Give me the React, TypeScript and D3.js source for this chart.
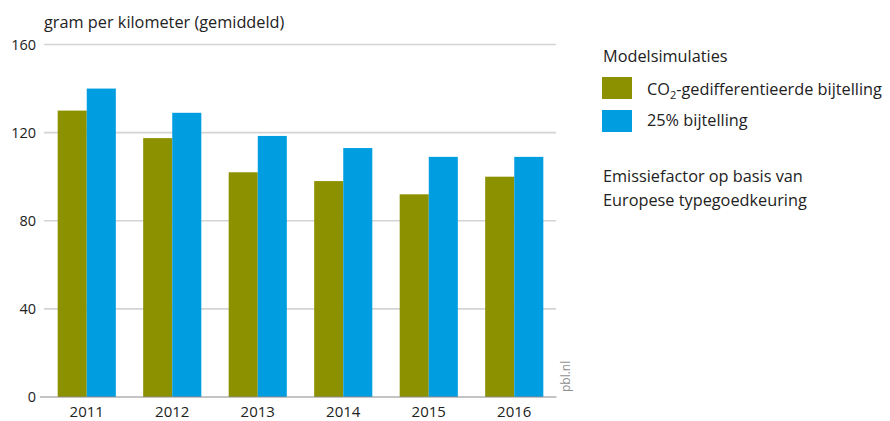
import React from "react";
import * as d3 from "d3";

const years = ["2011", "2012", "2013", "2014", "2015", "2016"];
const co2Diff = [130, 117.5, 102, 98, 92, 100];
const flat25 = [140, 129, 118.5, 113, 109, 109];
const yTicks = [0, 40, 80, 120, 160];
const seriesNames = ["CO2-gedifferentieerde bijtelling", "25% bijtelling"];
const colors = ["#8C9100", "#009EE0"];

const W = 890, H = 421;
const FONT = "'Open Sans', sans-serif";
const FS = 16.3;

export default function App() {
  const x0 = d3.scaleBand<string>().domain(years).range([44, 557]).paddingInner(0.32).paddingOuter(0.16);
  const x1 = d3.scaleBand<string>().domain(["a", "b"]).range([0, x0.bandwidth()]).padding(0);
  const y = d3.scaleLinear().domain([0, 160]).range([397, 44.5]);
  const series = [co2Diff, flat25];
  const keys = ["a", "b"];

  return (
    <svg width={W} height={H} style={{ position: "absolute", left: 0, top: 0, fontFamily: FONT }}>
      <rect width={W} height={H} fill="#fff" />
      <text x={44} y={28} fontSize={FS} fill="#222">gram per kilometer (gemiddeld)</text>
      {yTicks.map((t) => (
        <g key={t}>
          {t !== 0 && <line x1={44} x2={556} y1={y(t)} y2={y(t)} stroke="#d4d4d4" strokeWidth={1.6} />}
          <text x={36} y={y(t) + 5} fontSize={14.5} textAnchor="end" fill="#222">{t}</text>
        </g>
      ))}
      {years.map((yr, i) => (
        <g key={yr} transform={`translate(${x0(yr)},0)`}>
          {series.map((s, j) => (
            <rect key={j} x={x1(keys[j])} width={x1.bandwidth()} y={y(s[i])} height={y(0) - y(s[i])} fill={colors[j]} />
          ))}
          <text x={x0.bandwidth() / 2} y={417} fontSize={15} textAnchor="middle" fill="#222">{yr}</text>
        </g>
      ))}
      <line x1={40} x2={556.5} y1={y(0)} y2={y(0)} stroke="#8a8a8a" strokeWidth={1.2} />
      <text transform={`translate(570,392) rotate(-90)`} fontSize={12} fill="#8f8f8f">pbl.nl</text>
      <text x={603} y={62} fontSize={FS} fill="#222">Modelsimulaties</text>
      <rect x={602} y={77} width={30} height={22} fill={colors[0]} />
      <text x={647} y={95} fontSize={FS} fill="#222">
        CO<tspan fontSize={11} dy={4}>2</tspan><tspan dy={-4}>-gedifferentieerde bijtelling</tspan>
      </text>
      <rect x={602} y={110} width={30} height={22} fill={colors[1]} />
      <text x={647} y={126} fontSize={FS} fill="#222">{seriesNames[1]}</text>
      <text x={603} y={182} fontSize={FS} fill="#222">Emissiefactor op basis van</text>
      <text x={603} y={206} fontSize={FS} fill="#222">Europese typegoedkeuring</text>
    </svg>
  );
}
